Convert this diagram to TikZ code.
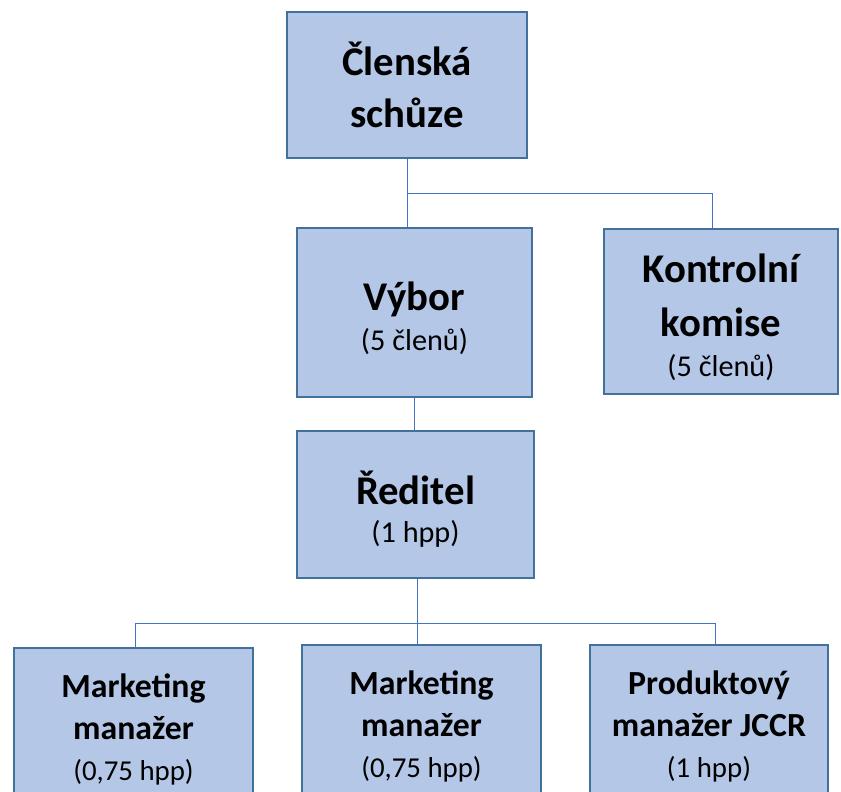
\documentclass[tikz,border=0pt]{standalone}
\usepackage{fontspec}
\setmainfont{Carlito}
\usetikzlibrary{positioning}
\definecolor{boxfill}{HTML}{B4C7E7}
\definecolor{boxline}{HTML}{41719C}
\definecolor{connline}{HTML}{4472C4}
\newcommand{\bigtxt}{\fontsize{29}{36.5}\selectfont\bfseries}
\newcommand{\subtxt}{\fontsize{21.5}{25}\selectfont\mdseries}
\newcommand{\lowtxt}{\fontsize{24}{29.5}\selectfont\bfseries}
\newcommand{\lowsub}{\fontsize{20.5}{29.5}\selectfont\mdseries}
\newcommand{\padtop}[1]{\rule{0pt}{#1}}
\begin{document}
\begin{tikzpicture}[
    x=0.025cm, y=-0.025cm,
    box/.style={rectangle, draw=boxline, line width=1.4pt, fill=boxfill, align=center, inner sep=0pt},
    conn/.style={draw=connline, line width=0.7pt}
]
\useasboundingbox (0,0) rectangle (841,791);
\clip (0,0) rectangle (841,791);

% upper levels
\node[box, minimum width=6cm, minimum height=3.65cm, font=\bigtxt] (clen) at (407,85) {Členská\\schůze};
\node[box, minimum width=5.875cm, minimum height=4.225cm, font=\bigtxt] (vybor) at (414.5,312.5) {\padtop{28pt}Výbor\\[-8pt]{\subtxt (5 členů)}};
\node[box, minimum width=5.85cm, minimum height=4.125cm, font=\bigtxt] (kontrola) at (721,311.5) {\padtop{29pt}Kontrolní\\[2pt]komise\\[-8pt]{\subtxt (5 členů)}};
\node[box, minimum width=5.925cm, minimum height=3.675cm, font=\bigtxt] (reditel) at (415.5,504.5) {\padtop{30.5pt}Ředitel\\[-9pt]{\subtxt (1 hpp)}};

% staff
\node[box, minimum width=5.975cm, minimum height=3.95cm, font=\lowtxt] (mm1) at (133.5,727) {\padtop{20.5pt}Marketing\\manažer\\{\lowsub (0,75 hpp)}};
\node[box, minimum width=5.975cm, minimum height=3.95cm, font=\lowtxt] (mm2) at (421.5,724) {\padtop{20.5pt}Marketing\\manažer\\{\lowsub (0,75 hpp)}};
\node[box, minimum width=5.95cm, minimum height=3.95cm, font=\lowtxt] (pm) at (709,724) {\padtop{20.5pt}Produktový\\manažer JCCR\\{\lowsub (1 hpp)}};

% connectors
\draw[conn] (clen.south) -- (clen.south |- vybor.north);
\draw[conn] (clen.south) -- ++(0,34) coordinate (cbus) -| ([xshift=-0.225cm]kontrola.north);
\draw[conn] (vybor.south) -- (vybor.south |- reditel.north);
\draw[conn] ([xshift=0.06cm]reditel.south) -- ([xshift=0.06cm]reditel.south |- mm2.north);
\draw[conn] ([xshift=0.06cm]reditel.south) -- ++(0,44) coordinate (rbus) -| ([xshift=0.06cm]mm1.north);
\draw[conn] (rbus) -| ([xshift=0.15cm]pm.north);

\end{tikzpicture}
\end{document}
